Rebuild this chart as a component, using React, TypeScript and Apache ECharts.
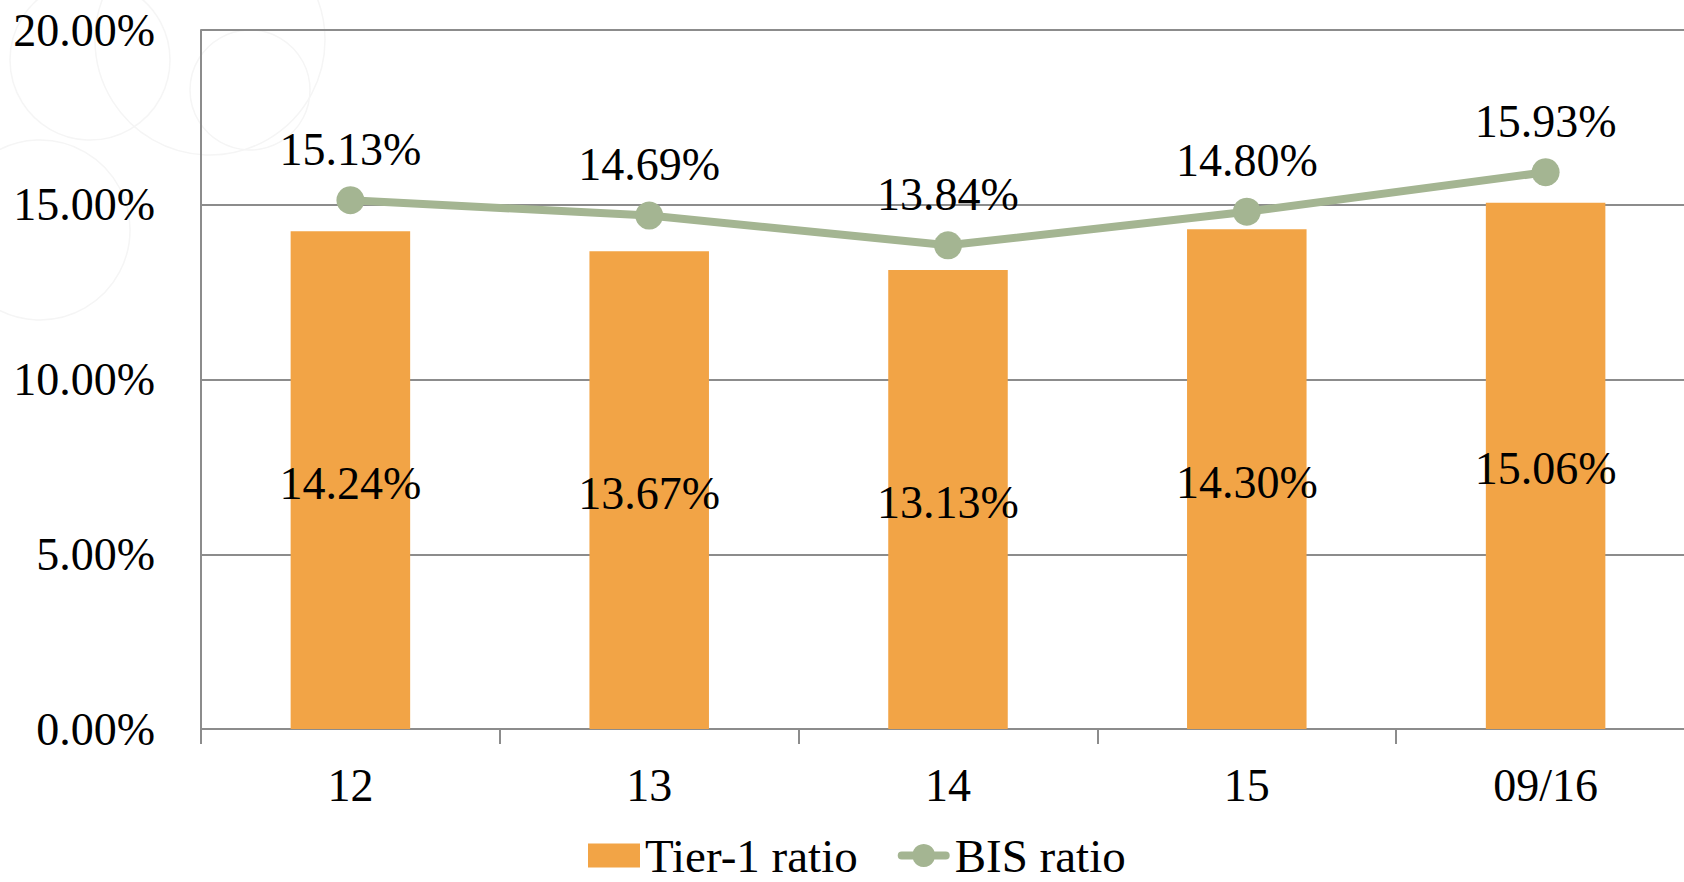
import React, { useEffect, useRef } from "react";
import * as echarts from "echarts";

const categories = ["12", "13", "14", "15", "09/16"];
const tier1Ratio = [14.24, 13.67, 13.13, 14.3, 15.06];
const bisRatio = [15.13, 14.69, 13.84, 14.8, 15.93];
const yTicks = { min: 0, max: 20, interval: 5 };

const FONT = "'Liberation Serif', 'Times New Roman', serif";
const BAR_COLOR = "#F2A446";
const LINE_COLOR = "#A4B592";
const GRID_COLOR = "#8C8C8C";
const LINE_ICON =
  "path://M4,8 L48,8 A4,4 0 0 1 48,16 L4,16 A4,4 0 0 1 4,8 Z M26,0.5 A11.5,11.5 0 1 1 25.99,0.5 Z";

export default function App() {
  const ref = useRef<HTMLDivElement>(null);
  useEffect(() => {
    if (!ref.current) return;
    const chart = echarts.init(ref.current, undefined, { renderer: "svg" });
    const fmt = (v: number) => v.toFixed(2) + "%";
    const ring = (cx: number, cy: number, r: number) => ({
      type: "circle",
      shape: { cx, cy, r },
      style: { fill: "none", stroke: "#f5f5f5", lineWidth: 1.5 },
      z: -10,
      silent: true,
    });
    chart.setOption({
      animation: false,
      backgroundColor: "#ffffff",
      textStyle: { fontFamily: FONT },
      graphic: [ring(210, 40, 115), ring(90, 60, 80), ring(40, 230, 90), ring(250, 90, 60)],
      grid: {
        left: 201,
        top: 30,
        width: 1494,
        height: 699,
        containLabel: false,
        outerBoundsMode: "none",
      },
      legend: {
        left: 588,
        top: 832,
        padding: 0,
        itemWidth: 52,
        itemHeight: 24,
        itemGap: 40,
        textStyle: { fontFamily: FONT, fontSize: 47, lineHeight: 40, color: "#000" },
        data: [
          { name: "Tier-1 ratio", icon: "rect" },
          { name: "BIS ratio", icon: LINE_ICON },
        ],
      },
      xAxis: {
        type: "category",
        data: categories,
        axisLine: { lineStyle: { color: GRID_COLOR, width: 2 } },
        axisTick: { show: true, length: 15, lineStyle: { color: GRID_COLOR, width: 2 } },
        axisLabel: { fontFamily: FONT, fontSize: 46, color: "#000", margin: 33 },
      },
      yAxis: {
        type: "value",
        min: yTicks.min,
        max: yTicks.max,
        interval: yTicks.interval,
        axisLine: { show: true, lineStyle: { color: GRID_COLOR, width: 2 } },
        axisTick: { show: false },
        splitLine: { lineStyle: { color: GRID_COLOR, width: 2 } },
        axisLabel: {
          fontFamily: FONT,
          fontSize: 46,
          color: "#000",
          margin: 46,
          formatter: (v: number) => v.toFixed(2) + "%",
        },
      },
      series: [
        {
          name: "Tier-1 ratio",
          type: "bar",
          data: tier1Ratio,
          barWidth: "40%",
          itemStyle: { color: BAR_COLOR },
          label: {
            show: true,
            position: "inside",
            offset: [0, 3],
            fontFamily: FONT,
            fontSize: 46,
            color: "#000",
            formatter: (p: any) => fmt(p.value),
          },
        },
        {
          name: "BIS ratio",
          type: "line",
          data: bisRatio,
          symbol: "circle",
          symbolSize: 28,
          itemStyle: { color: LINE_COLOR },
          lineStyle: { color: LINE_COLOR, width: 8 },
          z: 5,
          label: {
            show: true,
            position: "top",
            distance: 14,
            fontFamily: FONT,
            fontSize: 46,
            color: "#000",
            formatter: (p: any) => fmt(p.value),
          },
        },
      ],
    });
    return () => chart.dispose();
  }, []);
  return (
    <div
      ref={ref}
      style={{ position: "fixed", left: 0, top: 0, width: 1684, height: 882, background: "#fff" }}
    />
  );
}
